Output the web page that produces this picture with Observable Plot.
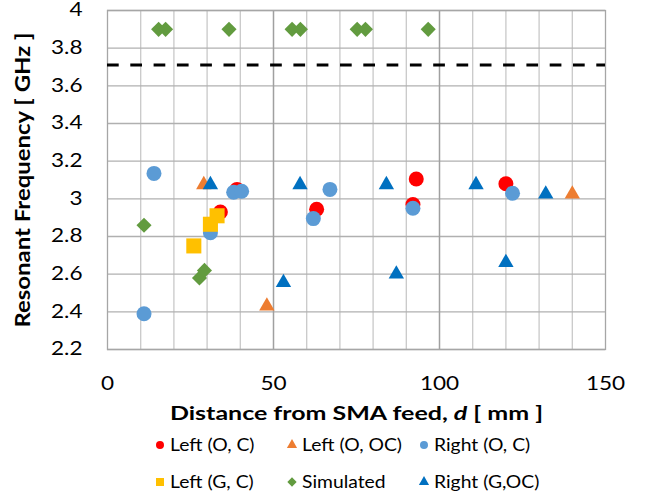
<!DOCTYPE html>
<html>
<head>
<meta charset="utf-8">
<script src="https://cdn.jsdelivr.net/npm/d3@7"></script>
<script src="https://cdn.jsdelivr.net/npm/@observablehq/plot@0.6"></script>
<style>
  body { margin: 0; background: #fff; font-family: Lato, sans-serif; }
  #wrap { width: 653px; position: relative; }
  #wrap > svg { overflow: visible; }
  #legend { position: relative; width: 653px; height: 75px; font-size: 16.5px; color: #000; }
  .item { position: absolute; display: flex; align-items: center; white-space: nowrap; }
  .item svg { margin-right: 4px; }
  .item span { display: inline-block; transform: scaleX(1.17); transform-origin: left center; }
</style>
</head>
<body>
<div id="wrap"></div>
<script>
// ---- data ----
const leftOC_d   = [34, 39, 63, 92, 93, 120];
const leftOC_f   = [2.93, 3.05, 2.945, 2.97, 3.105, 3.08];

const leftOOC_d  = [29, 48, 140];
const leftOOC_f  = [3.075, 2.43, 3.025];

const rightOC_d  = [11, 14, 31, 38, 40.4, 62, 67, 92, 122];
const rightOC_f  = [2.39, 3.135, 2.82, 3.035, 3.04, 2.895, 3.05, 2.95, 3.03];

const leftGC_d   = [26, 31, 33];
const leftGC_f   = [2.75, 2.865, 2.91];

const sim_d      = [11, 27.7, 29.2, 15.4, 17.5, 36.6, 55.6, 58.1, 75.2, 77.7, 96.6];
const sim_f      = [2.86, 2.58, 2.62, 3.9, 3.9, 3.9, 3.9, 3.9, 3.9, 3.9, 3.9];

const rightGOC_d = [31, 53, 58, 84, 87, 111, 120, 132];
const rightGOC_f = [3.075, 2.555, 3.075, 3.075, 2.60, 3.075, 2.662, 3.025];

const thresholdF = [3.71];

const xTicks = [0, 50, 100, 150];
const xMinorGrid = [10, 20, 30, 40, 60, 70, 80, 90, 110, 120, 130, 140];
const xMajorGrid = [50, 100];
const yTicks = [2.2, 2.4, 2.6, 2.8, 3, 3.2, 3.4, 3.6, 3.8, 4];

const seriesNames = ["Left (O, C)", "Left (O, OC)", "Right (O, C)", "Left (G, C)", "Simulated", "Right (G,OC)"];
const seriesColors = ["#FF0000", "#ED7D31", "#5B9BD5", "#FFC000", "#629B3F", "#0070C0"];
const seriesSymbols = ["circle", "triangle", "circle", "square", "diamond2", "triangle"];
const seriesR = [7.5, 5.7, 7.5, 8.5, 6.8, 5.7];

const seriesD = [leftOC_d, leftOOC_d, rightOC_d, leftGC_d, sim_d, rightGOC_d];
const seriesF = [leftOC_f, leftOOC_f, rightOC_f, leftGC_f, sim_f, rightGOC_f];

const rows = seriesD.map((ds, i) => ds.map((d, j) => ({d, f: seriesF[i][j]})));

const dotMarks = rows.map((data, i) => Plot.dot(data, {
  x: "d", y: "f", symbol: () => seriesSymbols[i], r: seriesR[i],
  fill: seriesColors[i], stroke: "none"
}));

const chart = Plot.plot({
  width: 653,
  height: 425,
  marginLeft: 107,
  marginRight: 48,
  marginTop: 10,
  marginBottom: 76,
  style: { fontFamily: "Lato, sans-serif", fontSize: "18.5px", color: "#000", background: "#fff" },
  symbol: { type: "identity" },
  x: {
    domain: [0, 150], ticks: xTicks, tickSize: 0, tickPadding: 27,
    label: "Distance from SMA feed, d [ mm ]", labelAnchor: "center", labelArrow: "none", labelOffset: 70
  },
  y: {
    domain: [2.2, 4], ticks: yTicks, tickSize: 0, tickPadding: 25,
    tickFormat: v => String(+v.toFixed(1)),
    label: "Resonant Frequency [ GHz ]", labelAnchor: "center", labelArrow: "none", labelOffset: 92
  },
  marks: [
    Plot.ruleX(xMinorGrid, {stroke: "#c9c9c9", strokeWidth: 1.3}),
    Plot.ruleY(yTicks, {stroke: "#b0b0b0", strokeWidth: 1.3}),
    Plot.ruleX(xMajorGrid, {stroke: "#a0a0a0", strokeWidth: 1.5}),
    Plot.frame({stroke: "#a6a6a6", strokeWidth: 1.3}),
    Plot.ruleY(thresholdF, {stroke: "#000", strokeWidth: 3, strokeDasharray: "11.7,11.6"}),
    ...dotMarks
  ]
});

// horizontal stretch of tick labels (reference text is widened)
const stretch = 1.22;
chart.querySelectorAll('[aria-label="x-axis tick label"] text, [aria-label="y-axis tick label"] text').forEach(t => {
  const x = +(t.getAttribute("x") || 0);
  const tr = t.getAttribute("transform") || "";
  t.setAttribute("transform", `${tr} translate(${x},0) scale(${stretch},1) translate(${-x},0)`);
});

// style axis labels: bold, italic "d"
const xl = chart.querySelector('[aria-label="x-axis label"] text');
if (xl) {
  xl.textContent = "";
  const parts = [["Distance from SMA feed, ", "normal"], ["d", "italic"], [" [ mm ]", "normal"]];
  for (const [t, st] of parts) {
    const ts = document.createElementNS("http://www.w3.org/2000/svg", "tspan");
    ts.textContent = t; ts.setAttribute("font-style", st);
    xl.appendChild(ts);
  }
  xl.setAttribute("font-weight", "bold");
  xl.setAttribute("font-size", "19px");
  xl.setAttribute("textLength", "373");
  xl.setAttribute("lengthAdjust", "spacingAndGlyphs");
}
const yl = chart.querySelector('[aria-label="y-axis label"] text');
if (yl) {
  yl.setAttribute("font-weight", "bold");
  yl.setAttribute("font-size", "21px");
  yl.setAttribute("textLength", "295");
  yl.setAttribute("lengthAdjust", "spacingAndGlyphs");
}

document.getElementById("wrap").appendChild(chart);

// legend below the chart
const legend = document.createElement("div");
legend.id = "legend";
const colX = [154, 286, 418];
const rowY = [20, 57];
seriesNames.forEach((name, i) => {
  const item = document.createElement("div");
  item.className = "item";
  item.style.left = colX[i % 3] + "px";
  item.style.top = (rowY[Math.floor(i / 3)] - 11) + "px";
  item.style.height = "22px";
  const sym = {circle: d3.symbolCircle, triangle: d3.symbolTriangle, square: d3.symbolSquare, diamond2: d3.symbolDiamond2}[seriesSymbols[i]];
  const size = {circle: 50, triangle: 45, square: 64, diamond2: 55}[seriesSymbols[i]];
  item.innerHTML = `<svg width="12" height="12" viewBox="-6 -6 12 12"><path d="${d3.symbol(sym, size)()}" fill="${seriesColors[i]}"/></svg><span>${name}</span>`;
  legend.appendChild(item);
});
document.getElementById("wrap").appendChild(legend);
</script>
</body>
</html>
